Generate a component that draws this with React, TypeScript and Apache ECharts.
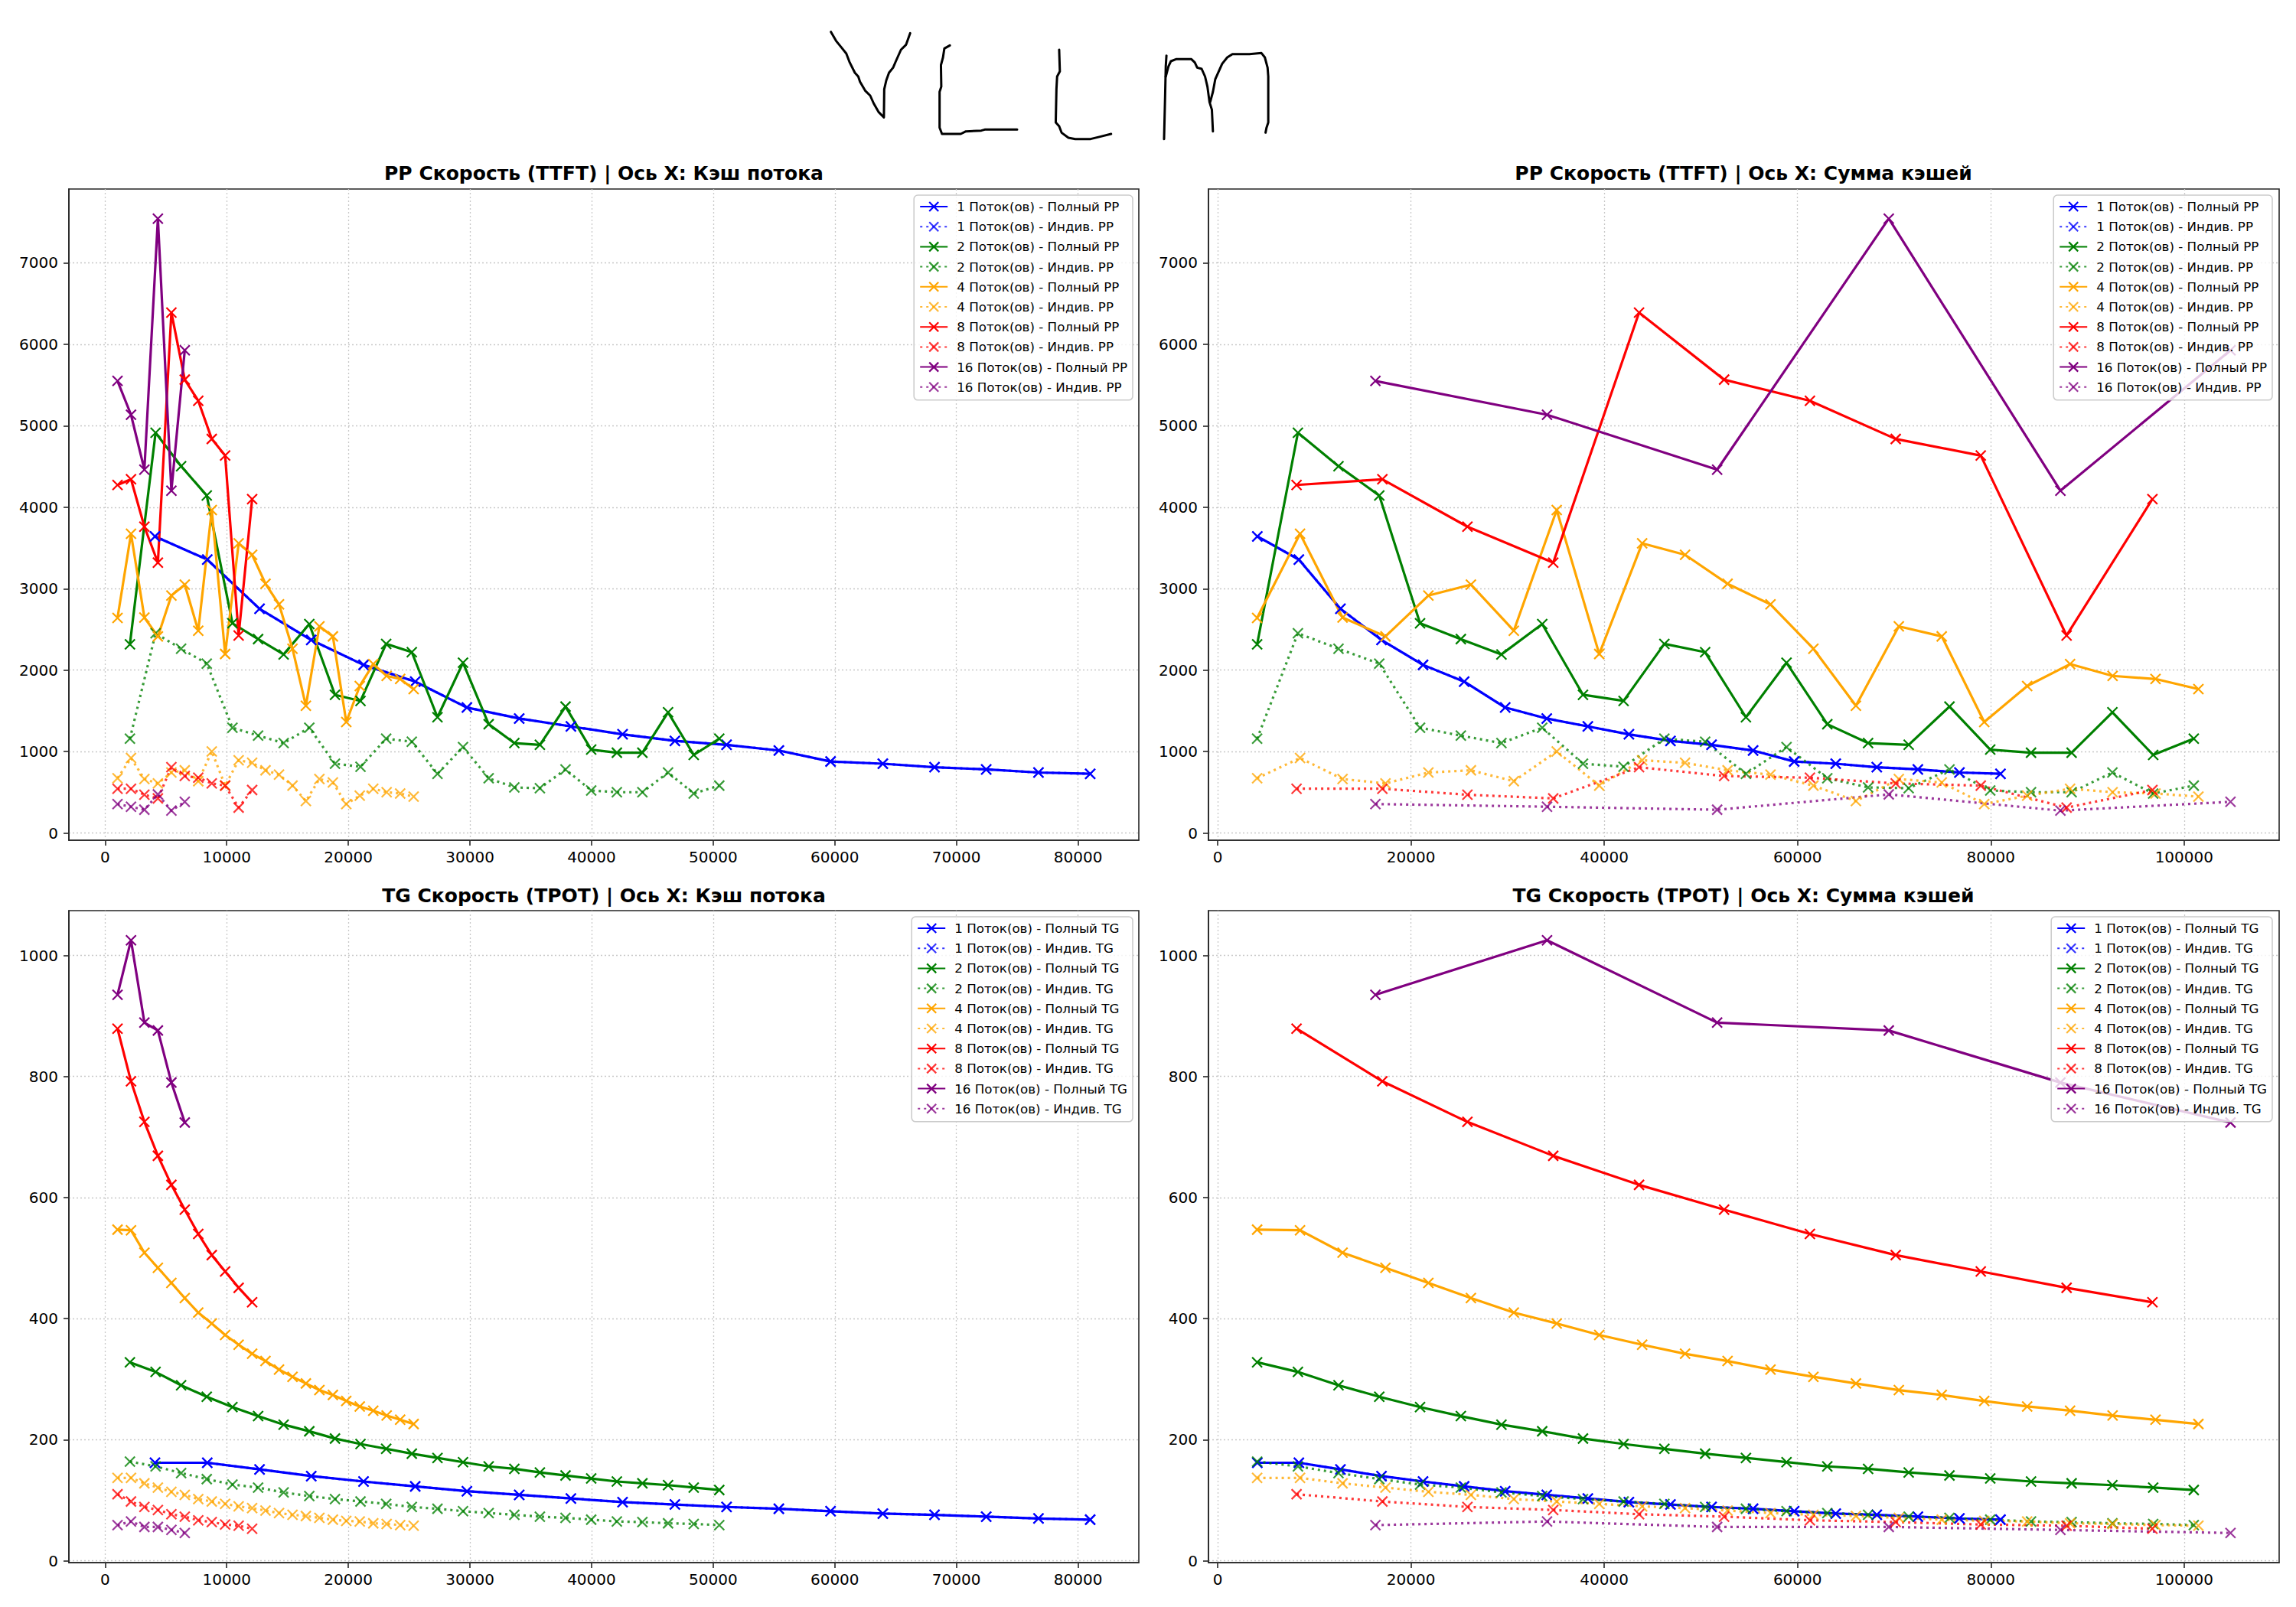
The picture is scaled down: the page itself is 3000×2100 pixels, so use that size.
import React, { useEffect, useRef } from 'react';
import * as echarts from 'echarts';

const threadCounts = [1, 2, 4, 8, 16];
const threadColors = ['#0000ff', '#008000', '#ffa500', '#ff0000', '#800080'];
const indivColors = [
  'rgba(0,0,255,0.78)',
  'rgba(0,128,0,0.78)',
  'rgba(255,165,0,0.78)',
  'rgba(255,0,0,0.78)',
  'rgba(128,0,128,0.78)',
];

// cache per thread (tokens)
const cache1 = [4100, 8400, 12700, 16950, 21250, 25500, 29750, 34050, 38300, 42550, 46850, 51100, 55400, 59650, 63950, 68200, 72450, 76750, 81000];
const cache2 = [2040, 4150, 6250, 8360, 10470, 12580, 14680, 16790, 18900, 21000, 23110, 25220, 27330, 29430, 31540, 33650, 35750, 37860, 39970, 42080, 44180, 46290, 48400, 50500];
const cache4 = [1020, 2130, 3230, 4340, 5450, 6550, 7660, 8770, 9870, 10980, 12090, 13190, 14300, 15410, 16510, 17620, 18730, 19830, 20940, 22050, 23150, 24260, 25370];
const cache8 = [1020, 2130, 3230, 4340, 5450, 6550, 7660, 8770, 9870, 10980, 12090];
const cache16 = [1020, 2130, 3230, 4340, 5450, 6550];
const cacheByThreads = [cache1, cache2, cache4, cache8, cache16];

// PP speed (TTFT)
const ppFull1 = [3642, 3357, 2753, 2370, 2064, 1859, 1541, 1406, 1309, 1212, 1131, 1083, 1013, 878, 851, 808, 781, 743, 727];
const ppInd1 = [3642, 3357, 2753, 2370, 2064, 1859, 1541, 1406, 1309, 1212, 1131, 1083, 1013, 878, 851, 808, 781, 743, 727];
const ppFull2 = [2317, 4914, 4504, 4143, 2575, 2381, 2193, 2565, 1697, 1622, 2322, 2220, 1422, 2091, 1336, 1104, 1083, 1552, 1024, 986, 986, 1482, 959, 1158];
const ppInd2 = [1158, 2452, 2263, 2080, 1293, 1196, 1104, 1293, 851, 814, 1158, 1121, 727, 1056, 673, 560, 550, 781, 523, 501, 501, 743, 485, 582];
const ppFull4 = [2640, 3675, 2645, 2414, 2915, 3050, 2484, 3966, 2198, 3556, 3416, 3060, 2807, 2263, 1562, 2538, 2414, 1363, 1805, 2074, 1929, 1891, 1767];
const ppInd4 = [673, 921, 663, 609, 743, 770, 636, 1002, 582, 894, 862, 770, 717, 582, 393, 663, 620, 356, 458, 544, 501, 485, 447];
const ppFull8 = [4273, 4343, 3761, 3319, 6390, 5566, 5307, 4838, 4634, 2425, 4100];
const ppInd8 = [544, 544, 470, 425, 808, 700, 679, 609, 582, 312, 528];
const ppFull16 = [5550, 5135, 4461, 7543, 4203, 5927];
const ppInd16 = [356, 323, 286, 474, 275, 383];

// TG speed (TPOT)
const tgFull1 = [162, 162, 151, 140, 131, 123, 115, 109, 103, 97, 93, 89, 86, 82, 78, 76, 73, 70, 68];
const tgInd1 = [162, 162, 151, 140, 131, 123, 115, 109, 103, 97, 93, 89, 86, 82, 78, 76, 73, 70, 68];
const tgFull2 = [328, 312, 290, 271, 254, 239, 225, 214, 202, 193, 185, 177, 170, 163, 156, 152, 146, 141, 136, 131, 128, 125, 121, 117];
const tgInd2 = [164, 156, 145, 135, 126, 121, 113, 107, 102, 98, 94, 89, 86, 82, 79, 76, 73, 71, 68, 65, 64, 62, 61, 59];
const tgFull4 = [547, 546, 509, 484, 459, 434, 410, 392, 373, 357, 342, 330, 316, 304, 293, 282, 274, 264, 255, 248, 240, 233, 226];
const tgInd4 = [137, 137, 128, 121, 114, 109, 102, 98, 94, 90, 87, 83, 79, 76, 74, 71, 68, 66, 65, 62, 61, 59, 58];
const tgFull8 = [879, 792, 725, 669, 621, 580, 540, 505, 478, 451, 427];
const tgInd8 = [110, 98, 89, 84, 77, 73, 67, 64, 60, 58, 53];
const tgFull16 = [935, 1025, 889, 876, 790, 724];
const tgInd16 = [59, 65, 56, 56, 51, 46];

const ppFull = [ppFull1, ppFull2, ppFull4, ppFull8, ppFull16];
const ppInd = [ppInd1, ppInd2, ppInd4, ppInd8, ppInd16];
const tgFull = [tgFull1, tgFull2, tgFull4, tgFull8, tgFull16];
const tgInd = [tgInd1, tgInd2, tgInd4, tgInd8, tgInd16];

// tick labels
const cacheTicks = [0, 10000, 20000, 30000, 40000, 50000, 60000, 70000, 80000];
const sumTicks = [0, 20000, 40000, 60000, 80000, 100000];
const ppTicks = [0, 1000, 2000, 3000, 4000, 5000, 6000, 7000];
const tgTicks = [0, 200, 400, 600, 800, 1000];

const titles = [
  'PP Скорость (TTFT) | Ось X: Кэш потока',
  'PP Скорость (TTFT) | Ось X: Сумма кэшей',
  'TG Скорость (TPOT) | Ось X: Кэш потока',
  'TG Скорость (TPOT) | Ось X: Сумма кэшей',
];

const FONT = '"DejaVu Sans", sans-serif';
const X_MARK = 'path://M0,0L10,10M0,10L10,0';

// hand drawn "VLLM" strokes
const logoStrokes = [
  [[80,125],[95,160],[110,185],[125,210],[135,245],[150,285],[160,300],[165,320],[180,355],[195,375],[205,405],[220,440],[235,460],[236,350],[242,315],[250,285],[262,265],[270,240],[285,195],[300,175],[312,130]],
  [[428,178],[412,190],[408,225],[402,255],[403,340],[398,360],[398,500],[405,525],[460,525],[475,515],[520,512],[530,508],[625,508]],
  [[748,195],[750,280],[742,300],[740,350],[738,480],[748,495],[755,520],[775,540],[795,545],[840,545],[870,535],[900,525]],
  [[1062,218],[1060,260],[1058,380],[1055,545]],
  [[1060,300],[1068,260],[1075,240],[1090,232],[1135,232],[1145,245],[1152,265],[1165,270],[1175,300],[1182,340],[1188,400],[1195,430],[1198,515]],
  [[1190,400],[1198,360],[1205,310],[1215,280],[1225,250],[1240,225],[1255,212],[1305,212],[1340,208],[1350,225],[1358,265],[1360,300],[1360,480],[1355,500],[1352,520]],
];

const pad = (vals: number[]) => {
  const lo = Math.min(...vals);
  const hi = Math.max(...vals);
  const m = (hi - lo) * 0.05;
  return [lo - m, hi + m];
};

function buildSeries(kind: string, full: number[][], ind: number[][], sumX: boolean, idx: number) {
  const out: any[] = [];
  threadCounts.forEach((n, i) => {
    const xs = cacheByThreads[i].map((c) => (sumX ? c * n : c));
    const pair = (ys: number[]) => ys.map((y, k) => [xs[k], y]);
    out.push({
      type: 'line',
      name: `${n} Поток(ов) - Полный ${kind}`,
      xAxisIndex: idx,
      yAxisIndex: idx,
      data: pair(full[i]),
      symbol: X_MARK,
      symbolSize: 13,
      lineStyle: { color: threadColors[i], width: 3.2 },
      itemStyle: { color: threadColors[i], borderColor: threadColors[i], borderWidth: 2.2 },
      emphasis: { disabled: true },
    });
    out.push({
      type: 'line',
      name: `${n} Поток(ов) - Индив. ${kind}`,
      xAxisIndex: idx,
      yAxisIndex: idx,
      data: pair(ind[i]),
      symbol: X_MARK,
      symbolSize: 13,
      lineStyle: { color: indivColors[i], width: 3.2, type: [3, 5] },
      itemStyle: { color: indivColors[i], borderColor: indivColors[i], borderWidth: 2.2 },
      emphasis: { disabled: true },
    });
  });
  return out;
}

function legendNames(kind: string) {
  const names: string[] = [];
  threadCounts.forEach((n) => {
    names.push(`${n} Поток(ов) - Полный ${kind}`);
    names.push(`${n} Поток(ов) - Индив. ${kind}`);
  });
  return names;
}

function makeLegend(kind: string, right: number, top: number) {
  return {
    orient: 'vertical',
    right,
    top,
    data: legendNames(kind),
    selectedMode: false,
    itemWidth: 36,
    itemHeight: 15,
    itemGap: 8.2,
    padding: [6, 7, 8, 7],
    backgroundColor: 'rgba(255,255,255,0.8)',
    borderColor: '#cccccc',
    borderWidth: 1.6,
    borderRadius: 5,
    itemStyle: { borderWidth: 2.2 },
    textStyle: { fontFamily: FONT, fontSize: 16.7, color: '#000', lineHeight: 18, padding: [0, 0, 0, 7] },
  };
}

const App: React.FC = () => {
  const chartRef = useRef<HTMLDivElement>(null);

  useEffect(() => {
    if (!chartRef.current) return;
    const chart = echarts.init(chartRef.current, undefined, { renderer: 'svg' });

    const xsCache = cacheByThreads.flat();
    const xsSum = cacheByThreads.flatMap((arr, i) => arr.map((c) => c * threadCounts[i]));
    const ppAll = [...ppFull.flat(), ...ppInd.flat()];
    const tgAll = [...tgFull.flat(), ...tgInd.flat()];
    const xCacheExt = pad(xsCache);
    const xSumExt = pad(xsSum);
    const ppExt = pad(ppAll);
    const tgExt = pad(tgAll);

    const grids = [
      { left: 90, top: 247, width: 1398, height: 851 },
      { left: 1579, top: 247, width: 1399, height: 851 },
      { left: 90, top: 1190, width: 1398, height: 852 },
      { left: 1579, top: 1190, width: 1399, height: 852 },
    ].map((g) => ({ ...g, show: true, borderColor: '#262626', borderWidth: 1.6, backgroundColor: 'transparent' }));

    const tickCommon = { show: true, length: 7, lineStyle: { color: '#262626', width: 1.6 } };
    const labelCommon = { fontFamily: FONT, fontSize: 20, color: '#000', formatter: (v: number) => String(v) };
    const splitCommon = { show: true, lineStyle: { color: '#c8c8c8', width: 1.3, type: [2, 3] } };

    const xAxisDef = (idx: number, ext: number[], ticks: number[], splitNumber: number) => ({
      type: 'value',
      gridIndex: idx,
      min: ext[0],
      max: ext[1],
      splitNumber,
      axisLine: { show: true, onZero: false, lineStyle: { color: '#262626', width: 1.6 } },
      axisTick: { ...tickCommon, customValues: ticks },
      axisLabel: { ...labelCommon, margin: 12, customValues: ticks },
      splitLine: splitCommon,
    });
    const yAxisDef = (idx: number, ext: number[], ticks: number[], splitNumber: number) => ({
      type: 'value',
      gridIndex: idx,
      min: ext[0],
      max: ext[1],
      splitNumber,
      axisLine: { show: true, onZero: false, lineStyle: { color: '#262626', width: 1.6 } },
      axisTick: { ...tickCommon, customValues: ticks },
      axisLabel: { ...labelCommon, margin: 14, customValues: ticks },
      splitLine: splitCommon,
    });

    const titleCenters = [
      [789, 226],
      [2278, 226],
      [789, 1170],
      [2278, 1170],
    ];

    const graphics: any[] = titles.map((t, i) => ({
      type: 'text',
      x: titleCenters[i][0],
      y: titleCenters[i][1],
      style: {
        text: t,
        font: `bold 25px ${FONT}`,
        fill: '#000',
        textAlign: 'center',
        textVerticalAlign: 'middle',
      },
    }));
    logoStrokes.forEach((pts) => {
      graphics.push({
        type: 'polyline',
        shape: { points: pts.map(([zx, zy]) => [1050 + zx / 2.24, zy / 3]) },
        style: { stroke: '#000', lineWidth: 3, fill: null, lineJoin: 'round', lineCap: 'round' },
      });
    });

    const option: any = {
      animation: false,
      backgroundColor: '#ffffff',
      grid: grids,
      xAxis: [
        xAxisDef(0, xCacheExt, cacheTicks, 8),
        xAxisDef(1, xSumExt, sumTicks, 5),
        xAxisDef(2, xCacheExt, cacheTicks, 8),
        xAxisDef(3, xSumExt, sumTicks, 5),
      ],
      yAxis: [
        yAxisDef(0, ppExt, ppTicks, 8),
        yAxisDef(1, ppExt, ppTicks, 8),
        yAxisDef(2, tgExt, tgTicks, 5),
        yAxisDef(3, tgExt, tgTicks, 5),
      ],
      legend: [
        makeLegend('PP', 1520, 255),
        makeLegend('PP', 31, 255),
        makeLegend('TG', 1520, 1198),
        makeLegend('TG', 31, 1198),
      ],
      series: [
        ...buildSeries('PP', ppFull, ppInd, false, 0),
        ...buildSeries('PP', ppFull, ppInd, true, 1),
        ...buildSeries('TG', tgFull, tgInd, false, 2),
        ...buildSeries('TG', tgFull, tgInd, true, 3),
      ],
      graphic: graphics,
    };

    chart.setOption(option);

    return () => {
      chart.dispose();
    };
  }, []);

  return (
    <div
      ref={chartRef}
      style={{ position: 'absolute', left: 0, top: 0, width: '3000px', height: '2100px' }}
    ></div>
  );
};

export default App;
